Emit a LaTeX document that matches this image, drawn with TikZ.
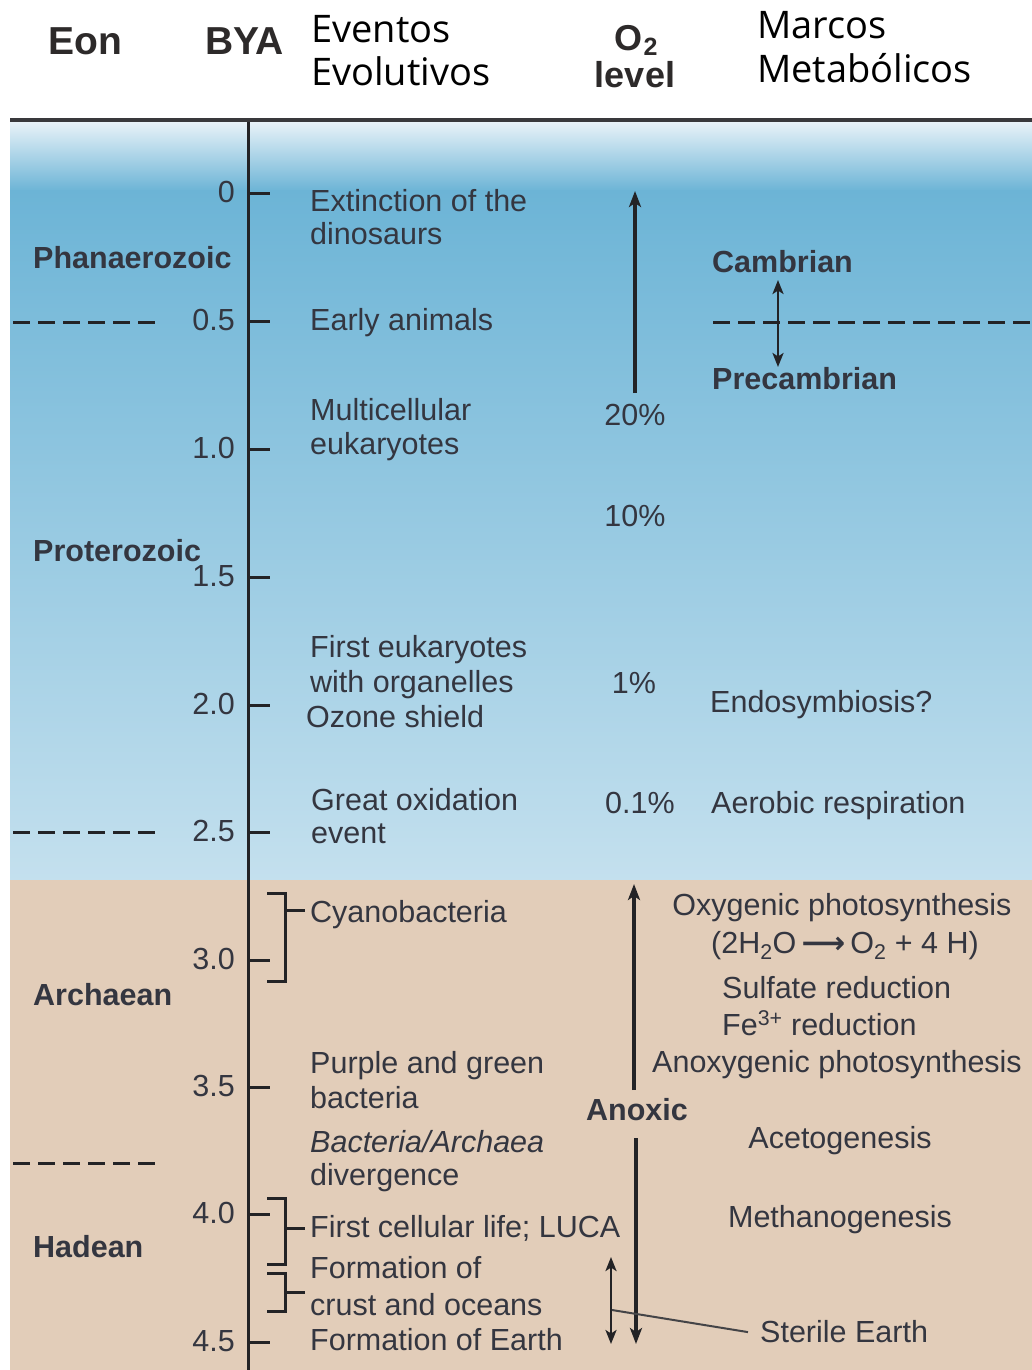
\documentclass[tikz,border=0pt]{standalone}
\usepackage{fontspec}
\setmainfont{Liberation Sans}
\newfontfamily\hdfont{Open Sans}
\newfontfamily\arrowfont{DejaVu Sans}
\usetikzlibrary{arrows.meta}
\definecolor{txt}{RGB}{52,54,64}
\definecolor{hdtxt}{RGB}{45,42,42}
\definecolor{lineclr}{RGB}{35,35,38}
\definecolor{skyA}{RGB}{232,242,248}
\definecolor{skyB}{RGB}{108,180,214}
\definecolor{skyC}{RGB}{196,224,238}
\definecolor{sand}{RGB}{226,205,185}
\tikzset{
  body/.style={font=\fontsize{30.5}{36}\selectfont, text=txt, inner sep=0pt, anchor=base west},
  bodyc/.style={body, anchor=base},
  eonlbl/.style={font=\bfseries\fontsize{30.5}{36}\selectfont, text=txt, inner sep=0pt, anchor=base west},
  eonlblc/.style={eonlbl, anchor=base},
  ticklbl/.style={font=\fontsize{30.5}{36}\selectfont, text=txt, inner sep=0pt, anchor=base east},
  hdr/.style={font=\bfseries\fontsize{39}{44}\selectfont, text=hdtxt, inner sep=0pt, anchor=base west},
  hdrc/.style={font=\bfseries\fontsize{36}{40}\selectfont, text=hdtxt, inner sep=0pt, anchor=base},
  hdropen/.style={font=\hdfont\fontsize{38}{44}\selectfont, text=black, inner sep=0pt, anchor=base west},
  axisline/.style={draw=lineclr, line width=3pt},
  ticks/.style={draw=lineclr, line width=3pt},
  brk/.style={draw=lineclr, line width=3pt},
  divline/.style={draw=lineclr, line width=3pt, dash pattern=on 17pt off 8pt},
  arr/.style={draw=lineclr, line width=3.2pt, -{Stealth[length=16pt,width=12pt,inset=4pt]}},
  darr/.style={draw=lineclr, line width=2.8pt, {Stealth[length=14pt,width=11pt,inset=3.5pt]}-{Stealth[length=14pt,width=11pt,inset=3.5pt]}},
  leader/.style={draw=lineclr!85, line width=2pt},
}
\begin{document}
\begin{tikzpicture}[x=1pt,y=-1pt]
\useasboundingbox (0,0) rectangle (1032,1370);
\fill[white] (0,0) rectangle (1032,1370);
% background bands
\shade[top color=skyA, bottom color=skyB] (10,122) rectangle (1032,191);
\shade[top color=skyB, bottom color=skyC] (10,190) rectangle (1032,881);
\fill[sand] (10,880) rectangle (1032,1370);
% header rule
\draw[draw=lineclr!90, line width=3.5pt] (10,120) -- (1032,120);

% header
\node[hdr] (heon) at (48,55) {Eon};
\node[hdr] (hbya) at (205,55) {BYA};
\node[hdropen] (hev1) at (311,43) {Eventos};
\node[hdropen] (hev2) at (311,86) {Evolutivos};
\node[hdrc] (ho2) at (636,51) {O\kern1pt\raisebox{-5pt}{\fontsize{25}{25}\selectfont 2}};
\node[hdrc] (hlev) at (635,88) {level};
\node[hdropen] (hmm1) at (757,39) {Marcos};
\node[hdropen] (hmm2) at (757,83) {Metabólicos};

% axis
\coordinate (axtop) at (248,122);
\coordinate (axbot) at (248,1370);
\draw[axisline] (axtop) -- (axbot);
\foreach \lab/\yy [count=\i] in {0/193,0.5/321,1.0/449,1.5/577,2.0/705,2.5/832,3.0/960,3.5/1087,4.0/1214,4.5/1342}{
  \draw[ticks] (248,\yy) -- (270,\yy);
  \node[ticklbl] (t\i) at (235,\yy+9) {\lab};
}

% eon names
\node[eonlbl] (phan) at (33,268) {Phanaerozoic};
\node[eonlbl] (prot) at (33,561) {Proterozoic};
\node[eonlbl] (arch) at (33,1005) {Archaean};
\node[eonlbl] (hade) at (33,1257) {Hadean};

% eon boundaries
\draw[divline] (13,322) -- (162,322);
\draw[divline] (13,832) -- (162,832);
\draw[divline] (13,1163) -- (162,1163);
\draw[divline] (713,322) -- (1032,322);

% events
\node[body] (ext1) at (310,211) {Extinction of the};
\node[body] (ext2) at (310,244) {dinosaurs};
\node[body] (early) at (310,330) {Early animals};
\node[body] (mc1) at (310,420) {Multicellular};
\node[body] (mc2) at (310,454) {eukaryotes};
\node[body] (fe1) at (310,657) {First eukaryotes};
\node[body] (fe2) at (310,692) {with organelles};
\node[body] (oz) at (306,727) {Ozone shield};
\node[body] (go1) at (311,810) {Great oxidation};
\node[body] (go2) at (311,843) {event};
\node[body] (cy) at (310,922) {Cyanobacteria};
\node[body] (pg1) at (310,1073) {Purple and green};
\node[body] (pg2) at (310,1108) {bacteria};
\node[body] (ba1) at (310,1152) {\itshape Bacteria/Archaea};
\node[body] (ba2) at (310,1185) {divergence};
\node[body] (luca) at (310,1237) {First cellular life; LUCA};
\node[body] (fo1) at (310,1278) {Formation of};
\node[body] (fo2) at (310,1315) {crust and oceans};
\node[body] (fearth) at (310,1350) {Formation of Earth};

% brackets
\draw[brk] (267,893) -- (285,893) -- (285,981) -- (267,981);
\draw[brk] (285,910) -- (305,910);
\draw[brk] (267,1198) -- (285,1198) -- (285,1264) -- (267,1264);
\draw[brk] (285,1228) -- (305,1228);
\draw[brk] (267,1273) -- (285,1273) -- (285,1311) -- (267,1311);
\draw[brk] (285,1292) -- (305,1292);

% O2 levels
\node[bodyc] (p20) at (635,425) {20\%};
\node[bodyc] (p10) at (635,526) {10\%};
\node[bodyc] (p1) at (634,693) {1\%};
\node[bodyc] (p01) at (640,813) {0.1\%};
\node[eonlblc] (anox) at (637,1120) {Anoxic};

\coordinate (o2a) at (635,393);
\coordinate (o2b) at (635,191);
\draw[arr] (o2a) -- (o2b);
\coordinate (an1) at (634,1090);
\coordinate (an2) at (634,884);
\draw[arr] (an1) -- (an2);
\coordinate (an3) at (636,1138);
\coordinate (an4) at (636,1344);
\draw[arr] (an3) -- (an4);
\coordinate (st1) at (611,1257);
\coordinate (st2) at (611,1344);
\draw[darr] (st1) -- (st2);

% metabolic milestones
\node[eonlbl] (camb) at (712,272) {Cambrian};
\node[eonlbl] (precamb) at (712,389) {Precambrian};
\coordinate (cb1) at (778,280);
\coordinate (cb2) at (778,367);
\draw[darr] (cb1) -- (cb2);
\node[body] (endo) at (710,712) {Endosymbiosis?};
\node[body] (aer) at (711,813) {Aerobic respiration};
\node[bodyc] (oxy) at (842,915) {Oxygenic photosynthesis};
\node[bodyc] (eq) at (845,953) {(2H\textsubscript{2}O\,{\arrowfont\bfseries ⟶}\,O\textsubscript{2} + 4 H)};
\node[body] (sulf) at (722,998) {Sulfate reduction};
\node[body] (fe3) at (722,1035) {Fe\textsuperscript{3+} reduction};
\node[body] (anoxy) at (652,1072) {Anoxygenic photosynthesis};
\node[bodyc] (aceto) at (840,1148) {Acetogenesis};
\node[bodyc] (meth) at (840,1227) {Methanogenesis};
\node[body] (ster) at (760,1342) {Sterile Earth};
\coordinate (lead) at (612,1310);
\draw[leader] (lead) -- ([xshift=-12pt,yshift=-1pt]ster.west);
\end{tikzpicture}
\end{document}
